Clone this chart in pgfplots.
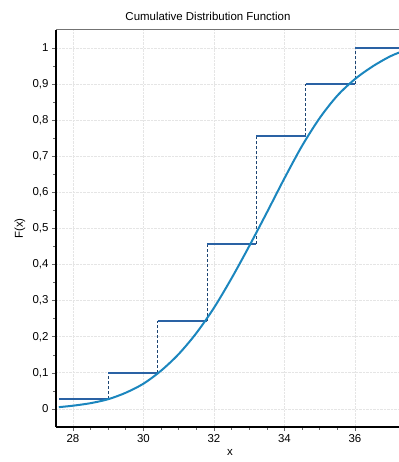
\documentclass[border=0pt]{standalone}
\usepackage{pgfplots}
\pgfplotsset{compat=1.18}
\usepackage{fontspec}
\setmainfont{Liberation Sans}
\usetikzlibrary{calc}
\definecolor{curve}{HTML}{1B86BE}
\definecolor{stepc}{HTML}{2A62A4}
\begin{document}
\begin{tikzpicture}
\begin{axis}[
  scale only axis, width=343bp, height=397bp,
  xmin=27.52, xmax=37.25, ymin=-0.05, ymax=1.05,
  xtick={28,30,32,34,36}, ytick={0,0.1,...,1.0},
  minor x tick num=3, minor y tick num=1,
  tick pos=left, tick align=outside,
  major tick length=4bp, minor tick length=2.5bp,
  every tick/.style={black!60, line width=0.6bp},
  grid=major, major grid style={densely dotted, black!10, line width=0.8bp},
  axis line style={draw=none},
  font=\fontsize{11.5}{13}\selectfont,
  /pgf/number format/assume math mode=true,
  /pgf/number format/use comma,
  yticklabel style={/pgf/number format/fixed, /pgf/number format/precision=1},
  title={Cumulative Distribution Function},
  title style={at={(0.443,1)}, anchor=south, yshift=0bp, font=\fontsize{11.5}{13}\selectfont},
  xlabel={x}, ylabel={F(x)},
  xlabel style={at={(axis description cs:0.507,-0.065)}, anchor=center},
  ylabel style={at={(axis description cs:-0.105,0.5)}, anchor=center},
  unbounded coords=jump,
  extra description/.code={
    \draw[black!55, line width=1bp] (0,1) -- (1,1);
    \draw[black, line width=1.5bp] (0,0) -- (0,1);
    \draw[black, line width=2.2bp] (0,0) -- (1,0);
  },
]
% dashed verticals
\addplot[stepc!70!black, densely dashed, line width=0.7bp] coordinates {
  (29.0,0.02857) (29.0,0.1) (29.0,nan)
  (30.4,0.1) (30.4,0.24286) (30.4,nan)
  (31.8,0.24286) (31.8,0.45714) (31.8,nan)
  (33.2,0.45714) (33.2,0.75714) (33.2,nan)
  (34.6,0.75714) (34.6,0.9) (34.6,nan)
  (36.0,0.9) (36.0,1.0)
};
% steps
\addplot[stepc, line width=2bp] coordinates {
  (27.6,0.02857) (29.0,0.02857) (29.0,nan)
  (29.0,0.1) (30.4,0.1) (30.4,nan)
  (30.4,0.24286) (31.8,0.24286) (31.8,nan)
  (31.8,0.45714) (33.2,0.45714) (33.2,nan)
  (33.2,0.75714) (34.6,0.75714) (34.6,nan)
  (34.6,0.9) (36.0,0.9) (36.0,nan)
  (36.0,1.0) (37.4,1.0)
};
% fitted CDF
\addplot[curve, line width=2bp, smooth] coordinates {
  (27.6,0.005) (28.0,0.009) (28.5,0.016) (29.0,0.027) (29.5,0.045)
  (30.0,0.070) (30.5,0.106) (31.0,0.152) (31.5,0.210) (32.0,0.280)
  (32.5,0.362) (33.0,0.451) (33.5,0.544) (34.0,0.639) (34.5,0.729)
  (35.0,0.806) (35.5,0.868) (36.0,0.914) (36.5,0.949) (37.0,0.977)
  (37.4,0.993)
};
\end{axis}
\pgfresetboundingbox
\useasboundingbox ($(current axis.south west)+(-56bp,-35bp)$) rectangle ($(current axis.north east)+(0,30bp)$);
\end{tikzpicture}
\end{document}
